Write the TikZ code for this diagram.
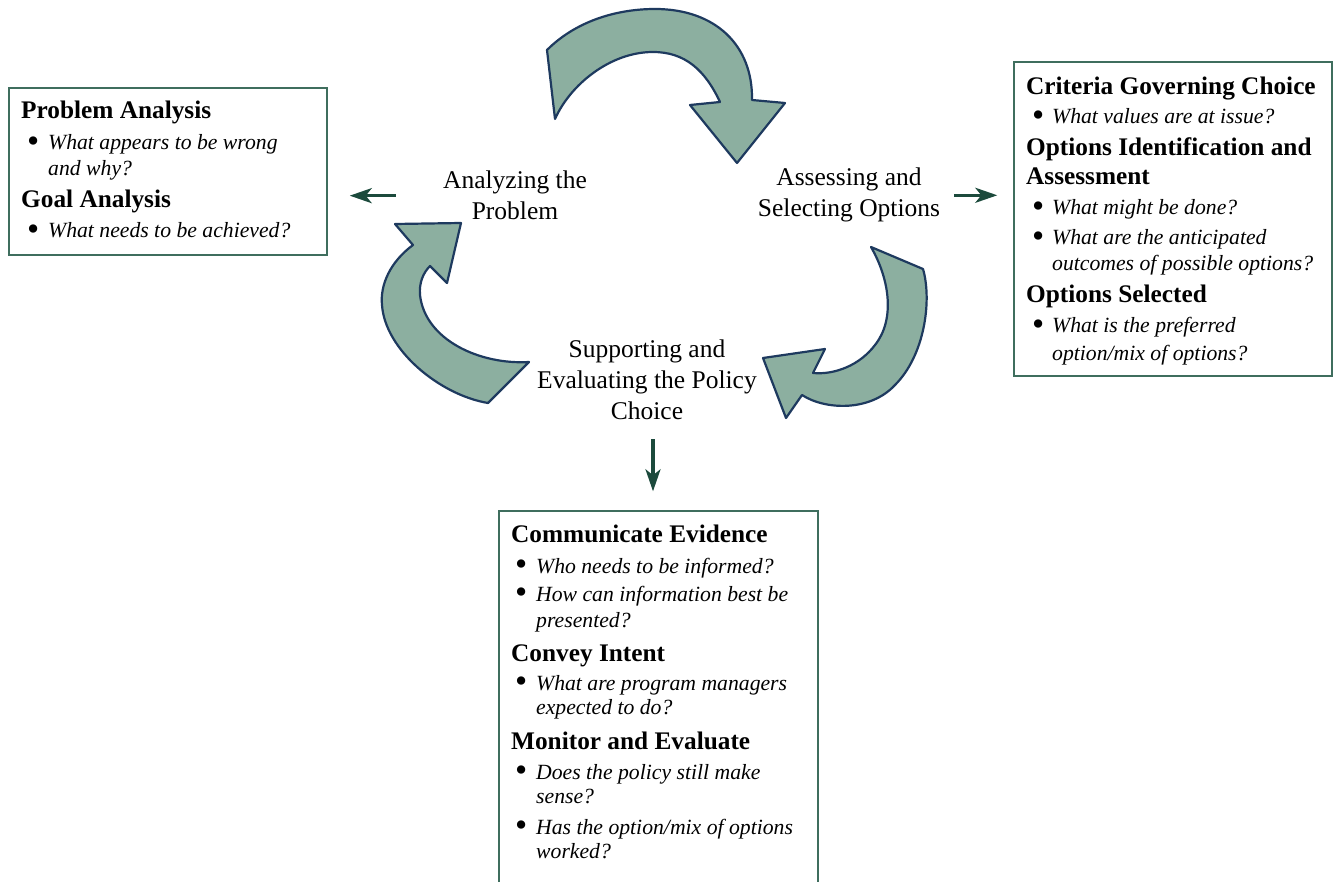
\documentclass[tikz,border=0pt]{standalone}
\usepackage{fontspec}
\usepackage{graphicx}
\setmainfont{Liberation Serif}
\usetikzlibrary{arrows.meta}
\definecolor{arrowfill}{HTML}{8CAFA0}
\definecolor{arrowline}{HTML}{1E3A5F}
\definecolor{boxline}{HTML}{3F6E5E}
\definecolor{flowcol}{HTML}{1C4A3C}
\newcommand\bulsym{\upshape\smash{\raisebox{-0.13em}{\scalebox{1.6}{\textbullet}}}}
\newcommand\bul{\makebox[21pt][l]{\bulsym}}
\newcommand\bulr{\makebox[20pt][l]{\bulsym}}
\begin{document}
\begin{tikzpicture}[x=1pt,y=-1pt,
  hd/.style={font=\fontsize{25.3}{30}\selectfont\bfseries, inner sep=0, anchor=base west},
  itl/.style={font=\fontsize{21.7}{26}\selectfont\itshape, inner sep=0, anchor=base west},
  lbl/.style={font=\fontsize{25.5}{31}\selectfont, align=center, inner sep=0, anchor=north},
  infobox/.style={draw=boxline, line width=1.4pt, inner sep=0},
  bigarrow/.style={fill=arrowfill, draw=arrowline, line width=2.2pt, line join=round},
  flow/.style={draw=flowcol, line width=3.2pt, -{Stealth[length=22pt,width=15pt,inset=6pt]}}]
\useasboundingbox (0,0) rectangle (1335,882);
\fill[white] (0,0) rectangle (1335,882);
\clip (0,0) rectangle (1335,882);

% boxes
\node[infobox, minimum width=318pt, minimum height=167pt] (pa) at (168,171.5) {};
\node[infobox, minimum width=318pt, minimum height=314pt] (crit) at (1173,219) {};
\node[infobox, minimum width=319pt, minimum height=389pt] (comm) at (658.5,705.5) {};

% center labels
\node[lbl] (an) at (515,171) {Analyzing the\\Problem};
\node[lbl] (sel) at (849,168) {Assessing and\\Selecting Options};
\node[lbl] (sup) at (647,340) {Supporting and\\Evaluating the Policy\\Choice};

% big curved arrows
\path[bigarrow] (547,50) .. controls (575,22) and (615,9) .. (655,9)
  .. controls (715,9) and (753,45) .. (752,100) -- (785,103) -- (737,163) -- (690,105) -- (720,102)
  .. controls (705,70) and (685,52) .. (653,52) .. controls (610,52) and (570,85) .. (555,119) -- cycle;
\path[bigarrow] (430,266) -- (447,283) -- (461,223) -- (395,224) -- (413,245)
  .. controls (390,262) and (380,285) .. (382,305) .. controls (385,350) and (440,395) .. (488,403)
  -- (529,362) .. controls (480,365) and (425,340) .. (420,295) .. controls (419,283) and (423,273) .. (430,266) -- cycle;
\path[bigarrow] (813,373) -- (825,349) -- (763,358) -- (786,418) -- (802,395)
  .. controls (825,410) and (870,412) .. (895,385) .. controls (925,355) and (932,300) .. (923,269)
  -- (871,247) .. controls (890,280) and (895,320) .. (875,345) .. controls (860,365) and (835,375) .. (813,373) -- cycle;

% small arrows
\draw[flow, shorten <=47pt, shorten >=22pt] (an.west) -- (an.west -| pa.east);
\draw[flow, shorten <=14pt, shorten >=16pt] (sel.east) -- (sel.east -| crit.west);
\draw[flow, shorten <=19pt, shorten >=19pt] ([xshift=6pt]sup.south) -- ([xshift=6pt]sup.south |- comm.north);

% left box text
\node[hd] (pa1) at (21,119) {Problem Analysis};
\node[itl] (pa2) at (27,150) {\bul What appears to be wrong};
\node[itl] (pa3) at (48,176) {and why?};
\node[hd] (pa4) at (21,208) {Goal Analysis};
\node[itl] (pa5) at (27,238) {\bul What needs to be achieved?};

% right box text
\node[hd] (cr1) at (1026,95) {Criteria Governing Choice};
\node[itl] (cr2) at (1032,124) {\bulr What values are at issue?};
\node[hd] (cr3) at (1026,156) {Options Identification and};
\node[hd] (cr4) at (1026,185) {Assessment};
\node[itl] (cr5) at (1032,215) {\bulr What might be done?};
\node[itl] (cr6) at (1032,245) {\bulr What are the anticipated};
\node[itl] (cr7) at (1052,271) {outcomes of possible options?};
\node[hd] (cr8) at (1026,303) {Options Selected};
\node[itl] (cr9) at (1032,333) {\bulr What is the preferred};
\node[itl] (cr10) at (1052,360) {option/mix of options?};

% bottom box text
\node[hd] (cm1) at (511,542) {Communicate Evidence};
\node[itl] (cm2) at (515,573) {\bul Who needs to be informed?};
\node[itl] (cm3) at (515,601) {\bul How can information best be};
\node[itl] (cm4) at (536,627) {presented?};
\node[hd] (cm5) at (511,661) {Convey Intent};
\node[itl] (cm6) at (515,690) {\bul What are program managers};
\node[itl] (cm7) at (536,714) {expected to do?};
\node[hd] (cm8) at (511,749) {Monitor and Evaluate};
\node[itl] (cm9) at (515,779) {\bul Does the policy still make};
\node[itl] (cm10) at (536,803) {sense?};
\node[itl] (cm11) at (515,834) {\bul Has the option/mix of options};
\node[itl] (cm12) at (536,858) {worked?};
\end{tikzpicture}
\end{document}
